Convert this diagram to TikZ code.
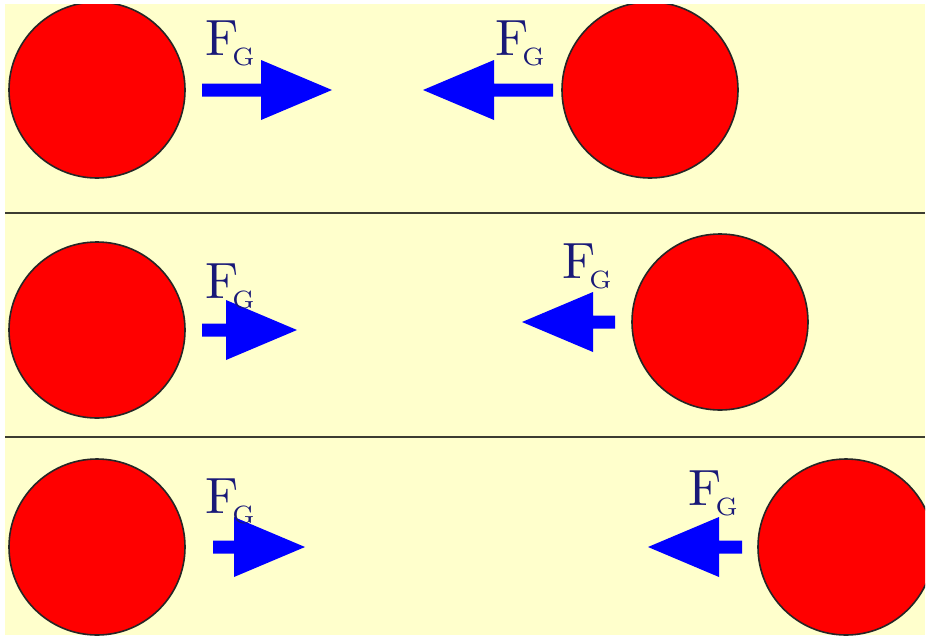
\documentclass[tikz,border=0pt]{standalone}
\usetikzlibrary{backgrounds}
\definecolor{paper}{RGB}{255,255,204}
\definecolor{ballred}{RGB}{255,0,0}
\definecolor{forceblue}{RGB}{0,0,255}
\definecolor{labelblue}{RGB}{25,25,120}
\definecolor{rulegray}{RGB}{60,60,50}
\font\fgFfont=cmr10 at 51pt
\font\fgGfont=cmr7 at 25pt
\newcommand\fglab{{\fgFfont F}\kern-6pt\raisebox{-10pt}{\fgGfont G}}
\tikzset{
  ball/.style={circle, fill=ballred, draw=black!85, line width=1.6pt, minimum size=176pt, inner sep=0pt},
  divider/.style={draw=rulegray, line width=2pt},
  fglabel/.style={text=labelblue, inner sep=0pt, anchor=base west},
  farrow/.pic={
    \fill[forceblue] (0,0) -- (-71,30) -- (-71,6.5) -- (-#1,6.5) -- (-#1,-6.5) -- (-71,-6.5) -- (-71,-30) -- cycle;
  }
}
\begin{document}
\begin{tikzpicture}[x=1pt,y=-1pt]
\useasboundingbox (0,0) rectangle (926,635);
\fill[white] (0,0) rectangle (926,635);
\fill[paper] (5,4) rectangle (925,635);
\begin{scope}
\clip (5,4) rectangle (925,635);
% row 1
\node[ball] (b1l) at (97,90) {};
\node[ball] (b1r) at (650,90) {};
% row 2
\node[ball] (b2l) at (97,330) {};
\node[ball] (b2r) at (720,322) {};
% row 3
\node[ball] (b3l) at (97,547) {};
\node[ball] (b3r) at (846,547) {};
\end{scope}
\coordinate (d1a) at (5,213);
\coordinate (d1b) at (925,213);
\coordinate (d2a) at (5,437);
\coordinate (d2b) at (925,437);
\draw[divider] (d1a) -- (d1b);
\draw[divider] (d2a) -- (d2b);
% arrows
\pic at (332,90) {farrow=130};
\pic[xscale=-1] at (423,90) {farrow=130};
\pic at (297,330) {farrow=95};
\pic[xscale=-1] at (522,322) {farrow=93};
\pic at (305,547) {farrow=92};
\pic[xscale=-1] at (648,547) {farrow=94};
% labels
\node[fglabel] (f1l) at (205,55) {\fglab};
\node[fglabel] (f1r) at (495,55) {\fglab};
\node[fglabel] (f2l) at (205,298) {\fglab};
\node[fglabel] (f2r) at (562,278) {\fglab};
\node[fglabel] (f3l) at (205,513) {\fglab};
\node[fglabel] (f3r) at (688,505) {\fglab};
\end{tikzpicture}
\end{document}
